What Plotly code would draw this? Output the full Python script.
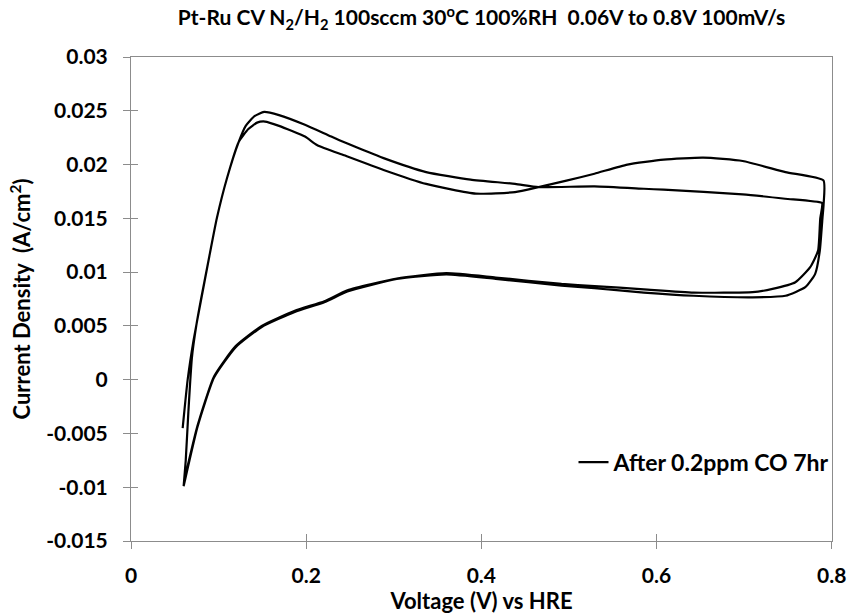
import plotly.graph_objects as go

# ---- data ----
anodic_a_v = [0.059, 0.0647, 0.0715, 0.080, 0.0895, 0.098, 0.1095, 0.123, 0.134, 0.144, 0.153, 0.169,
              0.1986, 0.2128, 0.2434, 0.2884, 0.337, 0.3938, 0.4385, 0.4653, 0.4972, 0.5292, 0.5668,
              0.6082, 0.6533, 0.6984, 0.7473, 0.7906]
anodic_a_j = [-0.0045, 0.0000, 0.0037, 0.0074, 0.0115, 0.0150, 0.0187, 0.0221, 0.0233, 0.0239, 0.0240, 0.0236,
              0.0226, 0.0218, 0.02086, 0.0195, 0.0182, 0.0173, 0.01744, 0.0179, 0.0185, 0.01915, 0.0200,
              0.02046, 0.02064, 0.02033, 0.0193, 0.01853]

cathodic_a_v = [0.7908, 0.7895, 0.7865, 0.7812, 0.7699, 0.7473, 0.7097, 0.6424, 0.5856, 0.5292, 0.4916,
                0.4164, 0.36, 0.3035, 0.2471, 0.2208, 0.187, 0.1493, 0.1193, 0.0948, 0.0759, 0.0601]
cathodic_a_j = [0.0163, 0.0150, 0.0120, 0.00984, 0.0086, 0.0078, 0.00766, 0.0078, 0.0081, 0.0085, 0.00875,
                0.00937, 0.00978, 0.00937, 0.0082, 0.0072, 0.0063, 0.0049, 0.0030, 0.0002, -0.0044, -0.0099]

anodic_b_v = [0.0601, 0.0625, 0.0655, 0.0695, 0.0745, 0.080, 0.0895, 0.098, 0.1095, 0.123, 0.131, 0.141,
              0.152, 0.169, 0.1986, 0.2287, 0.2471, 0.2884, 0.337, 0.3878, 0.4385, 0.4653, 0.5292, 0.5856,
              0.6082, 0.6984, 0.7468, 0.789]
anodic_b_j = [-0.0099, -0.0075, -0.0030, 0.0020, 0.0050, 0.0075, 0.0115, 0.0150, 0.0187, 0.0221, 0.0236, 0.0245,
              0.0249, 0.0246, 0.0237, 0.0226, 0.02195, 0.0206, 0.0193, 0.0186, 0.0182, 0.0179, 0.01797, 0.01775,
              0.01766, 0.01723, 0.01682, 0.01642]

cathodic_b_v = [0.789, 0.787, 0.7845, 0.7755, 0.7586, 0.7325, 0.7097, 0.6424, 0.5856, 0.5292, 0.4916,
                0.4164, 0.36, 0.3035, 0.2471, 0.2208, 0.187, 0.1493, 0.1193, 0.0948, 0.0759, 0.0605]
cathodic_b_j = [0.0160, 0.0150, 0.0120, 0.01046, 0.00906, 0.00844, 0.00813, 0.0081, 0.0084, 0.0087, 0.0089,
                0.0095, 0.0099, 0.0094, 0.0083, 0.0073, 0.0064, 0.0050, 0.0031, 0.0003, -0.0043, -0.0095]

x_tickvals = [0, 0.2, 0.4, 0.6, 0.8]
x_ticktext = ["0", "0.2", "0.4", "0.6", "0.8"]
y_tickvals = [-0.015, -0.01, -0.005, 0, 0.005, 0.01, 0.015, 0.02, 0.025, 0.03]
y_ticktext = ["-0.015", "-0.01", "-0.005", "0", "0.005", "0.01", "0.015", "0.02", "0.025", "0.03"]

series_name = "After 0.2ppm CO 7hr"
title_text = "Pt-Ru CV N<sub>2</sub>/H<sub>2</sub> 100sccm 30<sup>o</sup>C 100%RH  0.06V to 0.8V 100mV/s"
x_title = "Voltage (V) vs HRE"
y_title = "Current Density  (A/cm<sup>2</sup>)"

v_all = anodic_a_v + cathodic_a_v + anodic_b_v + cathodic_b_v
j_all = anodic_a_j + cathodic_a_j + anodic_b_j + cathodic_b_j

FONT = "Lato"
X_RANGE = [0, 0.8004]
Y_RANGE = [-0.015, 0.03]

fig = go.Figure()
fig.add_trace(go.Scatter(x=v_all, y=j_all, mode="lines", name=series_name,
                         line=dict(color="black", width=2.2, shape="spline", smoothing=0.5),
                         showlegend=True))
# helper trace for the inside tick marks (crossing ticks like the reference)
fig.add_trace(go.Scatter(x=[None], y=[None], xaxis="x2", yaxis="y2", showlegend=False,
                         hoverinfo="skip"))

axis_common = dict(showgrid=False, zeroline=False, showline=True, linecolor="#8c8c8c",
                   linewidth=1, mirror=True, ticks="outside", ticklen=7, tickcolor="#8c8c8c",
                   tickwidth=1, ticklabeloverflow="allow", automargin=False,
                   tickfont=dict(family=FONT, size=21, color="black", weight="bold"))

fig.update_layout(
    width=850, height=614,
    margin=dict(l=131, r=18, t=57, b=73, autoexpand=False),
    paper_bgcolor="white", plot_bgcolor="white",
    title=dict(text=title_text, x=0.5, xref="paper", xanchor="center",
               y=1 - 18 / 614, yref="container", yanchor="middle",
               font=dict(family=FONT, size=21, color="black", weight="bold")),
    xaxis=dict(range=X_RANGE, tickvals=x_tickvals, ticktext=x_ticktext, ticklabelstandoff=9,
               title=dict(text=x_title, standoff=0,
                          font=dict(family=FONT, size=22, color="black", weight="bold")),
               **axis_common),
    yaxis=dict(range=Y_RANGE, tickvals=y_tickvals, ticktext=y_ticktext, ticklabelstandoff=11,
               title=dict(text=y_title, standoff=9,
                          font=dict(family=FONT, size=22, color="black", weight="bold")),
               **axis_common),
    xaxis2=dict(range=X_RANGE, overlaying="x", tickvals=x_tickvals, showticklabels=False,
                ticks="inside", ticklen=7, tickcolor="#8c8c8c", showgrid=False, zeroline=False,
                showline=False, anchor="y2"),
    yaxis2=dict(range=Y_RANGE, overlaying="y", tickvals=y_tickvals, showticklabels=False,
                ticks="inside", ticklen=7, tickcolor="#8c8c8c", showgrid=False, zeroline=False,
                showline=False, anchor="x2"),
    legend=dict(x=1.005, xanchor="right", y=0.163, yanchor="middle", bgcolor="rgba(0,0,0,0)",
                font=dict(family=FONT, size=23, color="black", weight="bold"),
                itemwidth=30),
    showlegend=True,
)

fig.write_html("out.html")
